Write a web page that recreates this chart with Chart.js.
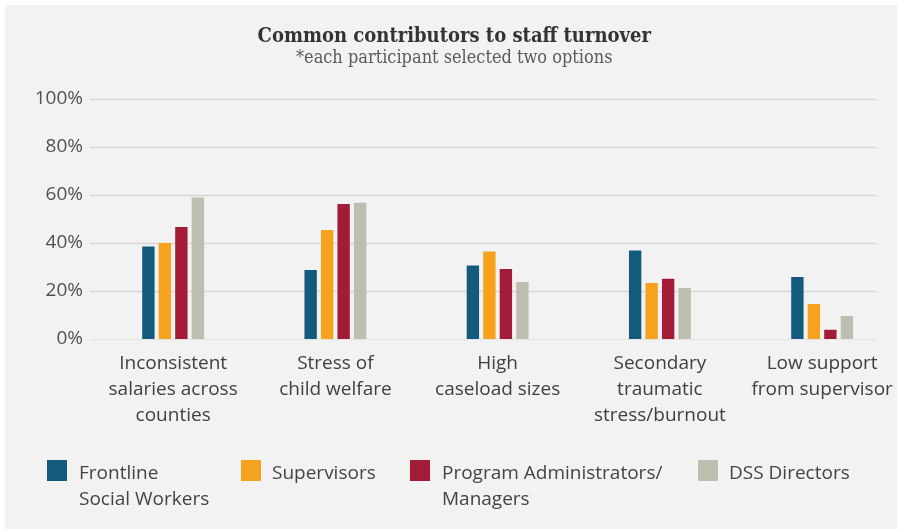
<!DOCTYPE html>
<html>
<head>
<meta charset="utf-8">
<script src="https://cdn.jsdelivr.net/npm/chart.js@4"></script>
<style>
  html, body { margin: 0; padding: 0; background: #fff; overflow: hidden; }
  #panel { position: absolute; left: 5px; top: 5px; width: 900px; height: 524px; background: #f2f2f2; }
  #chart { display: block; }
  .legend-item { position: absolute; top: 454px; font-family: "Open Sans", sans-serif; font-size: 19px; line-height: 26px; color: #444; }
  .legend-box { position: absolute; top: 0; width: 20px; height: 21px; }
  .legend-text { position: absolute; top: 0; white-space: nowrap; }
</style>
</head>
<body>
<div id="panel">
  <canvas id="chart" width="900" height="524"></canvas>
  <div id="legend"></div>
</div>
<script>
// Categories (multi-line labels)
const categories = [
  ['Inconsistent', 'salaries across', 'counties'],
  ['Stress of', 'child welfare'],
  ['High', 'caseload sizes'],
  ['Secondary', 'traumatic', 'stress/burnout'],
  ['Low support', 'from supervisor']
];

// Series values (percent)
const frontline = [38.5, 28.7, 30.6, 36.9, 25.8];
const supervisors = [40.0, 45.4, 36.5, 23.3, 14.6];
const programAdmins = [46.7, 56.3, 29.2, 25.1, 3.9];
const dssDirectors = [59.0, 56.8, 23.8, 21.3, 9.6];

const seriesNames = [
  ['Frontline', 'Social Workers'],
  ['Supervisors'],
  ['Program Administrators/', 'Managers'],
  ['DSS Directors']
];
const seriesColors = ['#135b7c', '#f5a21e', '#a31c37', '#bebeb0'];

const yTicks = [0, 20, 40, 60, 80, 100];

// Gridlines drawn from the y scale, limited on the right like the original
const gridPlugin = {
  id: 'customGrid',
  beforeDatasetsDraw(chart) {
    const ctx = chart.ctx;
    const y = chart.scales.y;
    ctx.save();
    yTicks.forEach(t => {
      const py = Math.round(y.getPixelForValue(t)) + 0.5;
      ctx.strokeStyle = t === 0 ? '#e6e6e6' : '#d6d6d6';
      ctx.lineWidth = 1.5;
      ctx.beginPath();
      ctx.moveTo(85, py);
      ctx.lineTo(871, py);
      ctx.stroke();
    });
    ctx.restore();
  }
};

const datasets = [frontline, supervisors, programAdmins, dssDirectors].map((data, i) => ({
  label: seriesNames[i].join(' '),
  data: data,
  backgroundColor: seriesColors[i],
  borderWidth: 0,
  categoryPercentage: 0.4067,
  barPercentage: 0.75
}));

new Chart(document.getElementById('chart').getContext('2d'), {
  type: 'bar',
  data: { labels: categories, datasets: datasets },
  options: {
    responsive: false,
    animation: false,
    layout: { padding: { left: 0, right: 1.5, top: 0, bottom: 90 } },
    plugins: {
      legend: { display: false },
      tooltip: { enabled: false },
      title: {
        display: true,
        text: 'Common contributors to staff turnover',
        color: '#333',
        font: { family: '"DejaVu Serif Condensed", "DejaVu Serif", serif', size: 20, weight: 'bold', lineHeight: 1.0 },
        padding: { top: 22, bottom: 0 }
      },
      subtitle: {
        display: true,
        text: '*each participant selected two options',
        color: '#5a5a5a',
        font: { family: '"DejaVu Serif Condensed", "DejaVu Serif", serif', size: 18, lineHeight: 1.2 },
        padding: { top: 1, bottom: 29.4 }
      }
    },
    scales: {
      x: {
        grid: { display: false, drawTicks: false },
        border: { display: false },
        ticks: {
          color: '#404040',
          font: { family: '"Open Sans", sans-serif', size: 19, lineHeight: 1.36 },
          padding: 12,
          maxRotation: 0,
          autoSkip: false
        },
        afterFit(scale) { scale.height = 100; }
      },
      y: {
        min: 0,
        max: 100,
        grid: { display: false, drawTicks: false },
        border: { display: false },
        ticks: {
          stepSize: 20,
          color: '#505050',
          font: { family: '"Open Sans", sans-serif', size: 19 },
          padding: 9,
          callback: v => v + '%'
        },
        afterFit(scale) { scale.width = 87; }
      }
    }
  },
  plugins: [gridPlugin]
});

// HTML legend (two-line labels)
const legendBoxX = [42, 236, 405, 693];
const legendTextX = [74, 267, 437, 724];
const legend = document.getElementById('legend');
seriesNames.forEach((name, i) => {
  const item = document.createElement('div');
  item.className = 'legend-item';
  item.innerHTML =
    `<div class="legend-box" style="left:${legendBoxX[i]}px;top:1px;background:${seriesColors[i]}"></div>` +
    `<div class="legend-text" style="left:${legendTextX[i]}px">${name.join('<br>')}</div>`;
  legend.appendChild(item);
});
</script>
</body>
</html>
